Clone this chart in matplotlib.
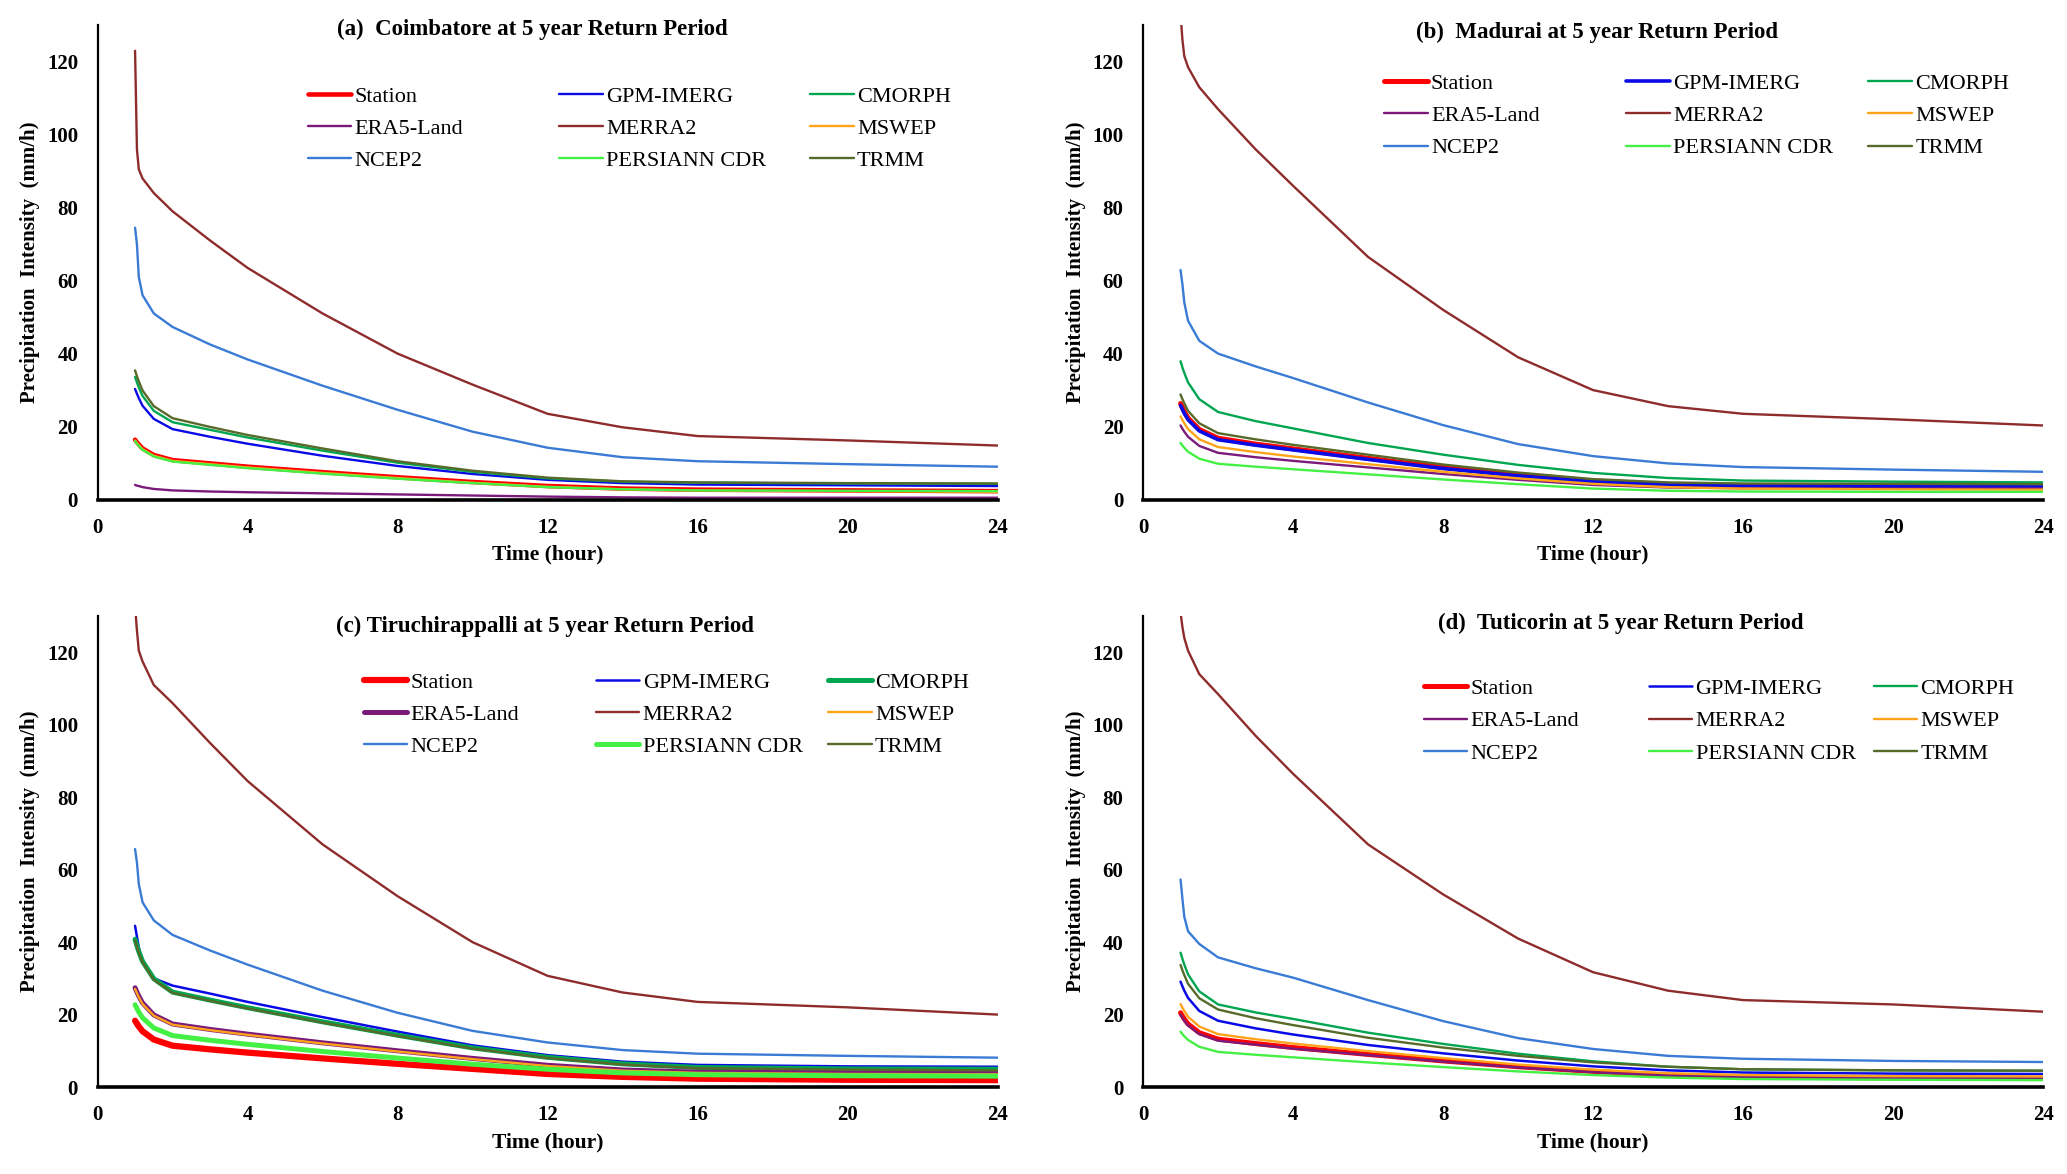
import matplotlib
matplotlib.use("Agg")
import matplotlib.pyplot as plt

# duration of the storm (hours) at which the curves were read
hours = [1, 1.05, 1.1, 1.2, 1.5, 2, 3, 4, 6, 8, 10, 12, 14, 16, 20, 24]

products = ["Station", "GPM-IMERG", "CMORPH", "ERA5-Land", "MERRA2",
            "MSWEP", "NCEP2", "PERSIANN CDR", "TRMM"]

# (a) Coimbatore, rows in the order of `products`
coimbatore = [
    [16.4, 15.7, 15.1, 14.0, 12.2, 10.8, 9.9, 9.0, 7.5, 6.1, 4.8, 3.7, 3.0, 2.7, 2.5, 2.3],
    [30.3, 29.0, 27.8, 25.7, 22.1, 19.3, 17.2, 15.3, 12.0, 9.2, 7.0, 5.4, 4.5, 4.1, 3.9, 3.7],
    [33.6, 32.1, 30.7, 28.4, 24.3, 21.2, 19.1, 17.0, 13.4, 10.1, 7.6, 5.8, 4.9, 4.6, 4.4, 4.3],
    [4.0, 3.8, 3.7, 3.4, 2.9, 2.5, 2.2, 2.0, 1.7, 1.4, 1.1, 0.8, 0.6, 0.5, 0.5, 0.5],
    [123, 96, 90.5, 88, 84, 79, 71, 63.5, 51, 40, 31.5, 23.5, 19.8, 17.4, 16.2, 14.8],
    [16.2, 15.5, 14.9, 13.8, 12.0, 10.6, 9.7, 8.8, 7.3, 5.9, 4.6, 3.5, 2.8, 2.5, 2.3, 2.1],
    [74.5, 70, 61, 56, 51, 47.3, 42.5, 38.4, 31.2, 24.6, 18.6, 14.2, 11.6, 10.5, 9.7, 9.0],
    [16.0, 15.3, 14.7, 13.6, 11.8, 10.4, 9.5, 8.6, 7.1, 5.7, 4.5, 3.4, 2.8, 2.5, 2.4, 2.3],
    [35.4, 33.8, 32.4, 29.9, 25.6, 22.3, 19.9, 17.7, 14.0, 10.5, 7.9, 6.0, 5.0, 4.7, 4.5, 4.4],
]

# (b) Madurai
madurai = [
    [26.3, 25.2, 24.1, 22.3, 19.2, 16.8, 15.2, 13.9, 11.3, 8.8, 6.8, 5.1, 4.1, 3.7, 3.5, 3.3],
    [25.8, 24.7, 23.6, 21.9, 18.8, 16.4, 14.9, 13.6, 11.0, 8.5, 6.5, 4.9, 4.0, 3.7, 3.6, 3.5],
    [37.9, 36.2, 34.7, 32.1, 27.5, 24.0, 21.5, 19.5, 15.5, 12.3, 9.5, 7.3, 5.9, 5.2, 4.9, 4.7],
    [20.3, 19.4, 18.6, 17.2, 14.7, 12.8, 11.6, 10.6, 8.8, 7.0, 5.4, 4.0, 3.3, 3.1, 3.0, 3.0],
    [133, 126, 121.5, 118.5, 113, 107, 96, 86, 66.5, 52, 39, 30, 25.6, 23.5, 22, 20.3],
    [22.8, 21.8, 20.9, 19.3, 16.5, 14.4, 13.0, 11.8, 9.7, 7.6, 5.8, 4.3, 3.4, 3.0, 2.8, 2.7],
    [62.9, 59, 54, 49, 43.5, 40.0, 36.5, 33.3, 26.6, 20.4, 15.2, 11.9, 9.9, 8.9, 8.2, 7.6],
    [15.5, 14.8, 14.2, 13.1, 11.2, 9.8, 9.0, 8.3, 6.9, 5.5, 4.2, 3.0, 2.4, 2.2, 2.1, 2.1],
    [28.8, 27.5, 26.4, 24.3, 20.9, 18.2, 16.5, 15.0, 12.3, 9.6, 7.4, 5.6, 4.7, 4.4, 4.3, 4.2],
]

# (c) Tiruchirappalli
tiruchirappalli = [
    [18.3, 17.5, 16.7, 15.4, 13.1, 11.4, 10.4, 9.5, 7.9, 6.4, 5.0, 3.6, 2.8, 2.3, 2.0, 1.9],
    [44.5, 41.5, 38.5, 34.5, 30.0, 28.0, 25.8, 23.5, 19.3, 15.3, 11.5, 8.8, 7.0, 6.1, 5.7, 5.6],
    [40.8, 39.0, 37.4, 34.7, 29.9, 26.2, 24.0, 21.9, 18.0, 14.3, 10.8, 8.2, 6.4, 5.4, 5.0, 4.9],
    [27.4, 26.2, 25.1, 23.2, 19.9, 17.4, 15.9, 14.6, 12.2, 10.0, 7.9, 6.0, 4.7, 4.1, 3.9, 3.8],
    [133, 126, 120.5, 117.5, 111, 106, 95, 84.5, 67, 52.7, 40, 30.7, 26.1, 23.5, 22, 20],
    [27.1, 25.9, 24.8, 22.9, 19.7, 17.2, 15.7, 14.4, 12.0, 9.8, 7.7, 5.8, 4.5, 3.9, 3.6, 3.5],
    [65.7, 62, 56, 51, 46, 42, 37.7, 33.8, 26.6, 20.5, 15.5, 12.3, 10.2, 9.2, 8.6, 8.1],
    [22.7, 21.7, 20.7, 19.1, 16.3, 14.2, 12.9, 11.8, 9.8, 8.0, 6.3, 4.9, 3.9, 3.4, 3.1, 3.0],
    [40.5, 38.7, 37.1, 34.4, 29.6, 26.0, 23.8, 21.7, 17.8, 14.1, 10.6, 8.0, 6.2, 5.2, 4.8, 4.6],
]

# (d) Tuticorin
tuticorin = [
    [20.5, 19.6, 18.8, 17.4, 15.0, 13.2, 12.0, 10.9, 9.0, 7.2, 5.6, 4.3, 3.3, 2.8, 2.5, 2.4],
    [29.1, 27.8, 26.6, 24.6, 21.0, 18.3, 16.2, 14.5, 11.6, 9.3, 7.3, 5.7, 4.6, 4.0, 3.7, 3.6],
    [37.1, 35.4, 33.8, 31.1, 26.4, 22.8, 20.6, 18.8, 15.0, 11.9, 9.2, 7.1, 5.6, 4.9, 4.6, 4.5],
    [20.0, 19.1, 18.3, 17.0, 14.6, 12.8, 11.7, 10.6, 8.8, 7.0, 5.4, 4.1, 3.2, 2.7, 2.5, 2.4],
    [131, 127, 124, 120.5, 114, 108.5, 97, 86.5, 67, 53.2, 41, 31.7, 26.6, 24, 22.8, 20.8],
    [22.9, 21.9, 21.0, 19.4, 16.7, 14.6, 13.2, 12.0, 9.9, 8.0, 6.2, 4.8, 3.8, 3.3, 3.0, 2.9],
    [57.3, 52, 47, 43, 39.5, 35.8, 32.8, 30.2, 24.0, 18.2, 13.5, 10.5, 8.6, 7.8, 7.2, 6.9],
    [15.3, 14.6, 14.0, 13.0, 11.1, 9.7, 8.9, 8.2, 6.8, 5.5, 4.3, 3.3, 2.6, 2.2, 2.0, 1.9],
    [33.7, 32.2, 30.9, 28.5, 24.5, 21.4, 19.0, 17.1, 13.6, 10.9, 8.6, 6.8, 5.6, 4.9, 4.6, 4.5],
]

colors = ["#FF0000", "#0A0AE6", "#00A550", "#7B1A7B", "#8E2C2C",
          "#FFA31A", "#3A7BD5", "#44F044", "#586A2A"]

panels = [
    ("(a)  Coimbatore at 5 year Return Period", coimbatore),
    ("(b)  Madurai at 5 year Return Period", madurai),
    ("(c) Tiruchirappalli at 5 year Return Period", tiruchirappalli),
    ("(d)  Tuticorin at 5 year Return Period", tuticorin),
]

# line widths per panel (thick ones are highlighted in the original)
widths = [
    [3.3, 1.7, 1.7, 1.7, 1.7, 1.7, 1.7, 1.7, 1.7],
    [3.6, 2.6, 1.7, 1.7, 1.7, 1.7, 1.7, 1.7, 1.7],
    [4.5, 1.8, 3.6, 3.6, 1.7, 1.7, 1.7, 3.6, 1.7],
    [3.6, 1.8, 1.7, 1.7, 1.7, 1.7, 1.7, 1.7, 1.7],
]

axes_pos = [
    [0.0472, 0.5745, 0.4354, 0.404],
    [0.553, 0.5745, 0.4354, 0.404],
    [0.0472, 0.0741, 0.4354, 0.401],
    [0.553, 0.0741, 0.4354, 0.401],
]
title_xy = [(0.483, 0.992), (0.504, 0.985), (0.497, 0.978), (0.531, 0.985)]
# legend: left x of first column, column step, y of middle row
legend_xy = [(0.234, 0.279, 0.782), (0.268, 0.269, 0.809),
             (0.296, 0.258, 0.791), (0.312, 0.250, 0.777)]

plt.rcParams['font.family'] = ['Liberation Serif', 'DejaVu Serif']

fig = plt.figure(figsize=(20.67, 11.74), dpi=100)

for k, (title, series) in enumerate(panels):
    ax = fig.add_axes(axes_pos[k])
    lines = []
    for i, name in enumerate(products):
        ln, = ax.plot(hours, series[i], color=colors[i], lw=widths[k][i],
                      label=name, solid_capstyle='round', solid_joinstyle='round')
        lines.append(ln)

    ax.set_xlim(0, 24)
    ax.set_ylim(0, 130)
    ax.set_xticks([0, 4, 8, 12, 16, 20, 24])
    ax.set_yticks([0, 20, 40, 60, 80, 100, 120])
    ax.tick_params(length=0, labelsize=15)
    ax.tick_params(axis='y', pad=14)
    ax.tick_params(axis='x', pad=13)
    for lab in ax.get_xticklabels() + ax.get_yticklabels():
        lab.set_fontweight('bold')
    ax.spines['top'].set_visible(False)
    ax.spines['right'].set_visible(False)
    ax.spines['left'].set_linewidth(1.6)
    ax.spines['bottom'].set_linewidth(2.6)

    ax.set_xlabel("Time (hour)", fontsize=15.5, fontweight='bold', labelpad=5)
    ax.set_ylabel("Precipitation  Intensity  (mm/h)", fontsize=15, fontweight='bold',
                  labelpad=5)

    tx, ty = title_xy[k]
    ax.text(tx, ty, title, transform=ax.transAxes, ha='center', va='center',
            fontsize=16.5, fontweight='bold')

    # three legend columns with equal spacing, row-wise order like Excel
    lx, dx, ly = legend_xy[k]
    for j in range(3):
        hs = [lines[j], lines[j + 3], lines[j + 6]]
        leg = ax.legend(handles=hs, loc='center left', bbox_to_anchor=(lx + j * dx, ly),
                        frameon=False, fontsize=16, handlelength=1.95,
                        handletextpad=0.15, labelspacing=0.53, borderpad=0,
                        borderaxespad=0)
        if j < 2:  # the last one stays as the axes' own legend
            ax.add_artist(leg)

fig.savefig("out.png", dpi=100)
